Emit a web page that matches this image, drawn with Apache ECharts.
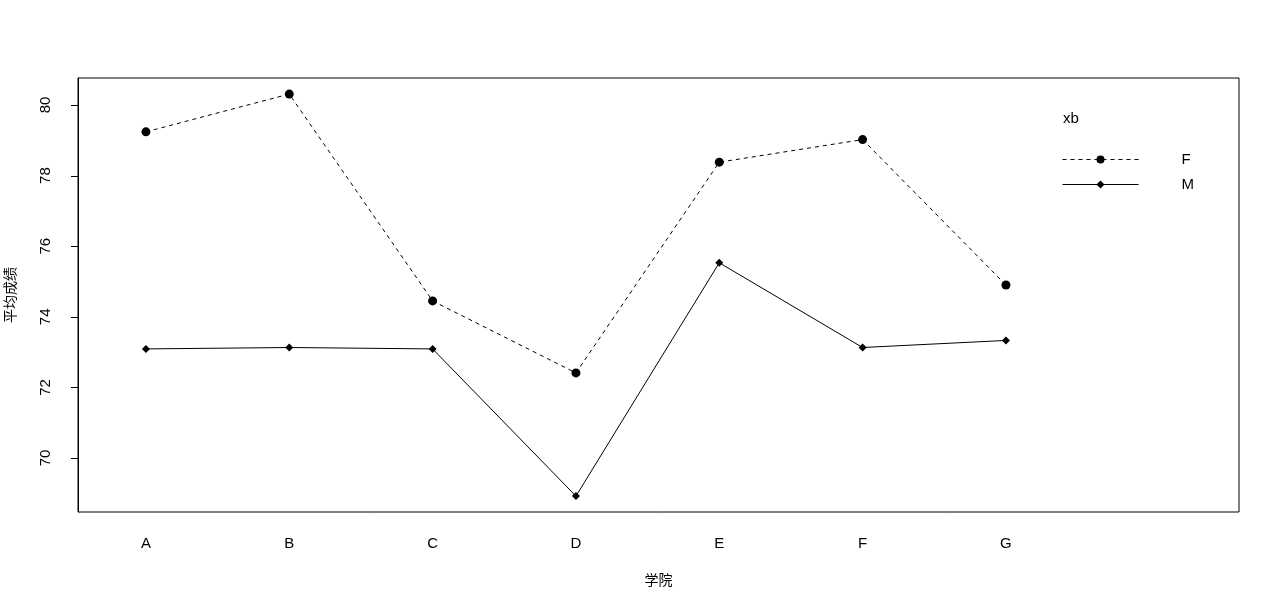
<!DOCTYPE html>
<html>
<head>
<meta charset="utf-8">
<script src="https://cdn.jsdelivr.net/npm/echarts@6/dist/echarts.min.js"></script>
<style>
  html, body { margin: 0; padding: 0; background: #fff; }
  #chart { width: 1280px; height: 611px; }
</style>
</head>
<body>
<div id="chart"></div>
<script>
const colleges = ['A', 'B', 'C', 'D', 'E', 'F', 'G'];
const scoresF = [79.24, 80.31, 74.45, 72.41, 78.38, 79.02, 74.90];
const scoresM = [73.09, 73.13, 73.09, 68.92, 75.53, 73.13, 73.33];
const yTicks = [70, 72, 74, 76, 78, 80];
const xTicks = colleges.map((c, i) => i + 1);

const font = 'Liberation Sans, Arial, "Noto Sans CJK SC", sans-serif';
const xMin = 0.526, xMax = 8.626;
const toPoints = vals => vals.map((v, i) => [i + 1, v]);

const chart = echarts.init(document.getElementById('chart'));
chart.setOption({
  animation: false,
  backgroundColor: '#fff',
  textStyle: { fontFamily: font },
  title: {
    text: 'xb',
    left: 1058,
    top: 106,
    textStyle: { fontSize: 15, fontWeight: 'normal', color: '#000', fontFamily: font }
  },
  legend: {
    left: 1057,
    top: 147,
    orient: 'vertical',
    itemWidth: 76,
    itemHeight: 10,
    itemGap: 10,
    lineStyle: { width: 1 },
    textStyle: { fontSize: 15, color: '#000', padding: [0, 0, 0, 38] },
    data: ['F', 'M']
  },
  grid: {
    left: 78, right: 41, top: 78, bottom: 99,
    outerBoundsMode: 'none',
    show: true, borderColor: '#000', borderWidth: 1
  },
  xAxis: {
    type: 'value',
    min: xMin,
    max: xMax,
    name: '学院',
    nameLocation: 'middle',
    nameGap: 62,
    nameTextStyle: { fontSize: 14, color: '#000' },
    axisLine: { show: false },
    axisTick: { show: false },
    splitLine: { show: false },
    axisLabel: {
      customValues: xTicks,
      fontSize: 15,
      color: '#000',
      margin: 24,
      formatter: v => colleges[Math.round(v) - 1] || ''
    }
  },
  yAxis: {
    type: 'value',
    min: 68.47,
    max: 80.765,
    name: '平均成绩',
    nameLocation: 'middle',
    nameRotate: 90,
    nameGap: 60,
    nameTextStyle: { fontSize: 14, color: '#000' },
    axisLine: { show: true, lineStyle: { color: '#000', width: 1 } },
    splitLine: { show: false },
    axisTick: { show: false },
    axisLabel: {
      customValues: yTicks,
      rotate: 90,
      fontSize: 15,
      color: '#000',
      margin: 25
    }
  },
  series: [
    {
      name: 'F',
      type: 'line',
      data: toPoints(scoresF),
      symbol: 'circle',
      symbolSize: 9,
      itemStyle: { color: '#000' },
      lineStyle: { color: '#000', width: 1, type: [4, 4] }
    },
    {
      name: 'M',
      type: 'line',
      data: toPoints(scoresM),
      symbol: 'diamond',
      symbolSize: 8,
      itemStyle: { color: '#000' },
      lineStyle: { color: '#000', width: 1 }
    },
    {
      // y-axis tick marks, placed through the axis scale
      name: 'ticks',
      type: 'custom',
      silent: true,
      clip: false,
      data: yTicks.map(v => [xMin, v]),
      renderItem: (params, api) => {
        const p = api.coord([api.value(0), api.value(1)]);
        const y = Math.round(p[1]) + 0.5;
        return {
          type: 'line',
          shape: { x1: p[0] - 7, y1: y, x2: p[0], y2: y },
          style: { stroke: '#000', lineWidth: 1 }
        };
      }
    }
  ]
});
</script>
</body>
</html>
